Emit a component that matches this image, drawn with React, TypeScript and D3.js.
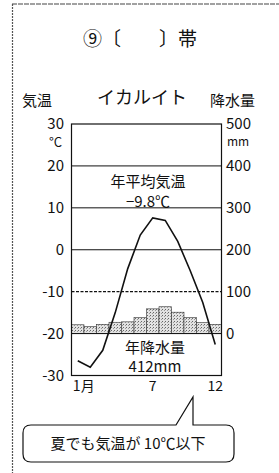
import React from 'react';
import * as d3 from 'd3';

const months = ['1', '2', '3', '4', '5', '6', '7', '8', '9', '10', '11', '12'];
const temperature = [-26.5, -28, -24, -15, -4.5, 3.5, 7.6, 7, 2, -5, -12.6, -22.6];
const precipitation = [21, 17, 22, 27, 28, 38, 59, 64, 51, 38, 26, 22];
const tempTicks = [30, 20, 10, 0, -10, -20, -30];
const precTicks = [500, 400, 300, 200, 100, 0];
const monthLabels = [{ m: '1', t: '1月' }, { m: '7', t: '7' }, { m: '12', t: '12' }];

const FONT = '"Noto Sans CJK JP", "Noto Sans", sans-serif';

const App = () => {
  const left = 71.5;
  const right = 221.5;

  const x = d3.scaleBand().domain(months).range([left, right]).padding(0);
  const yT = d3.scaleLinear().domain([-30, 30]).range([375.5, 124]);
  const yP = d3.scaleLinear().domain([0, 500]).range([yT(-20), yT(30)]);

  const cx = (m: string) => (x(m) as number) + x.bandwidth() / 2;

  const line = d3.line<number>()
    .x((_, i) => cx(months[i]))
    .y(d => yT(d));

  return (
    <svg width={279} height={473} style={{ position: 'absolute', left: 0, top: 0, background: '#fff' }}
      fontFamily={FONT}>
      <defs>
        <pattern id="dots" width="3" height="3" patternUnits="userSpaceOnUse">
          <rect width="3" height="3" fill="#e2e2e2" />
          <rect x="0" y="0" width="1" height="1" fill="#666" />
          <rect x="2" y="1" width="1" height="1" fill="#999" />
        </pattern>
      </defs>

      {/* scan border */}
      <line x1={12} y1={4} x2={279} y2={4} stroke="#444" strokeWidth={1.2} strokeDasharray="5 1" />
      <line x1={12.5} y1={4} x2={12.5} y2={473} stroke="#555" strokeWidth={1.2} strokeDasharray="2 1" />

      <text x={140} y={46} textAnchor="middle" fontSize={19} fill="#111">⑨〔　　〕帯</text>

      <text x={22} y={106} fontSize={15} fill="#111">気温</text>
      <text x={142} y={104} textAnchor="middle" fontSize={18} fill="#111">イカルイト</text>
      <text x={210} y={106} fontSize={15} fill="#111">降水量</text>

      {/* precipitation bars */}
      {precipitation.map((p, i) => (
        <rect key={i} x={x(months[i])} y={yP(p)} width={x.bandwidth()} height={yP(0) - yP(p)}
          fill="url(#dots)" stroke="#333" strokeWidth={0.6} />
      ))}

      {/* grid */}
      {tempTicks.filter(t => t !== 30 && t !== -30).map(t => (
        <line key={t} x1={left} x2={right} y1={yT(t)} y2={yT(t)} stroke="#111"
          strokeWidth={t === -10 ? 1.3 : 1} strokeDasharray={t === -10 ? '3 1.5' : undefined} />
      ))}
      <rect x={left} y={yT(30)} width={right - left} height={yT(-30) - yT(30)} fill="none" stroke="#111" strokeWidth={1.2} />

      {/* temperature */}
      <path d={line(temperature) || ''} fill="none" stroke="#111" strokeWidth={1.6} />

      {/* left axis */}
      {tempTicks.map(t => (
        <text key={t} x={64} y={yT(t) + 5} textAnchor="end" fontSize={15} fill="#111">
          {t < 0 ? '-' + Math.abs(t) : t}
        </text>
      ))}
      <text x={49} y={yT(30) + 23} fontSize={13} fill="#111">°C</text>

      {/* right axis */}
      {precTicks.map(p => (
        <text key={p} x={226} y={yP(p) + 5} fontSize={15} fill="#111">{p}</text>
      ))}
      <text x={227} y={yP(500) + 22} fontSize={12} fill="#111">mm</text>

      {/* months */}
      {monthLabels.map(d => (
        <text key={d.m} x={cx(d.m) + (d.m === '1' ? 6 : 0)} y={yT(-30) + 15} textAnchor="middle" fontSize={14} fill="#111">{d.t}</text>
      ))}

      {/* annotations */}
      <text x={148} y={187} textAnchor="middle" fontSize={15} fill="#111">年平均気温</text>
      <text x={148} y={207} textAnchor="middle" fontSize={15} fill="#111">−9.8℃</text>
      <text x={155} y={353} textAnchor="middle" fontSize={15} fill="#111">年降水量</text>
      <text x={155} y={372} textAnchor="middle" fontSize={15} fill="#111">412mm</text>

      {/* callout */}
      <path d="M176,425 L193,397 L193,425 L226,425 Q234,425 234,433 L234,454 Q234,462 226,462 L31,462 Q23,462 23,454 L23,433 Q23,425 31,425 Z"
        fill="#fff" stroke="#111" strokeWidth={1.2} />
      <text x={128} y={449} textAnchor="middle" fontSize={15} fill="#111">夏でも気温が 10℃以下</text>
    </svg>
  );
};

export default App;
